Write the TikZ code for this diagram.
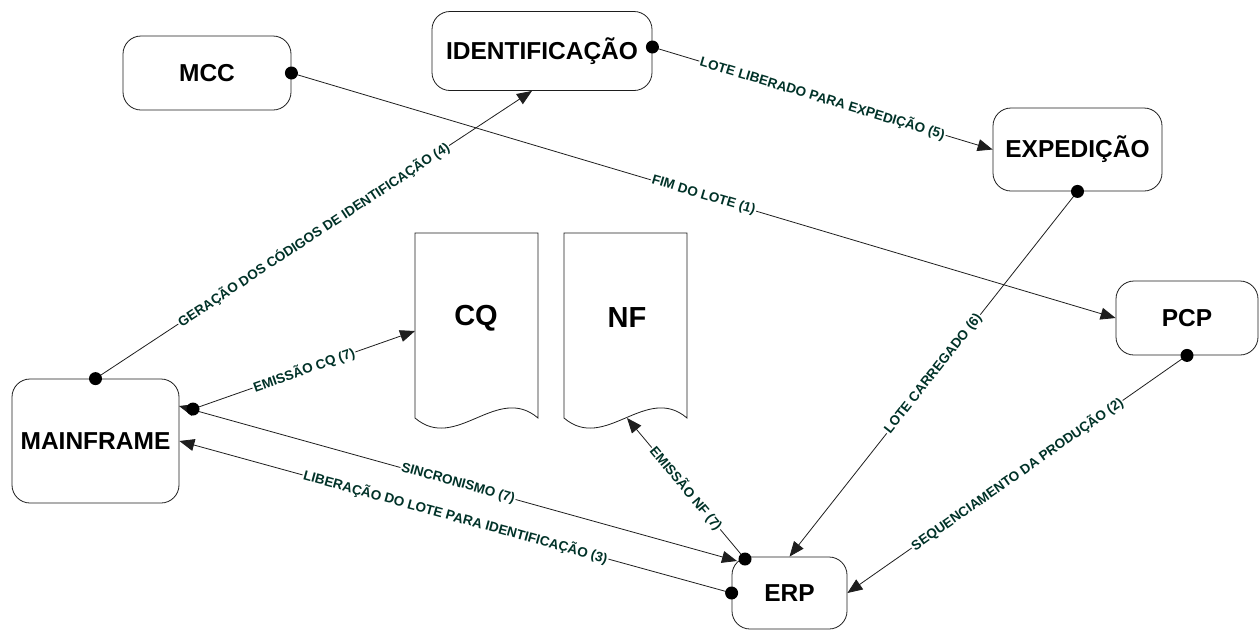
\documentclass[tikz,border=0pt]{standalone}
\usepackage{fontspec}
\setmainfont{Liberation Sans}
\usetikzlibrary{arrows.meta}
\definecolor{lblgreen}{RGB}{0,50,40}
\definecolor{linegray}{RGB}{30,30,30}
\begin{document}
\begin{tikzpicture}[x=1pt,y=-1pt,
  box/.style={draw=linegray, line width=0.8pt, rounded corners=18pt, inner sep=0pt,
    font=\fontsize{24.5}{28}\selectfont\bfseries},
  doctext/.style={inner sep=0pt, font=\fontsize{29}{32}\selectfont\bfseries},
  docline/.style={draw=linegray, line width=0.8pt, fill=white},
  flow/.style={draw=linegray, line width=0.8pt, -{Triangle[length=15pt,width=12pt]}},
  both/.style={{Triangle[length=15pt,width=12pt]}-{Triangle[length=15pt,width=12pt]}},
  lbl/.style={midway, sloped, fill=white, inner sep=1.2pt, text=lblgreen,
    font=\bfseries\fontsize{13.5}{15}\selectfont},
  portdot/.style={fill=black}]
\fill[white] (0,0) rectangle (1259,630);
\useasboundingbox (0,0) rectangle (1259,630);

% process boxes
\node[box, minimum width=168pt, minimum height=74pt] (mcc) at (207,73) {MCC};
\node[box, minimum width=220pt, minimum height=79pt] (ident) at (542,51) {IDENTIFICAÇÃO};
\node[box, minimum width=169pt, minimum height=83pt] (exped) at (1077.5,149.5) {EXPEDIÇÃO};
\node[box, minimum width=142pt, minimum height=74pt] (pcp) at (1187,318) {PCP};
\node[box, minimum width=167pt, minimum height=124pt] (mf) at (95.5,441) {MAINFRAME};
\node[box, minimum width=115pt, minimum height=72pt] (erp) at (789.5,593) {ERP};

% printed documents with wavy lower edge
\draw[docline] (415,233) -- (538,233) -- (538,418)
  .. controls (497,383) and (456,453) .. (415,418) -- cycle;
\draw[docline] (564,233) -- (687,233) -- (687,418)
  .. controls (646,383) and (605,453) .. (564,418) -- cycle;
\node[doctext] (cq) at (476,318) {CQ};
\node[doctext] (nf) at (627,318) {NF};

% connection ports
\coordinate (identin) at ([xshift=-10pt]ident.south);
\coordinate (identout) at ([yshift=4pt]ident.east);
\coordinate (mfout) at (193,409);
\coordinate (mfsync) at (179,406);
\coordinate (erpsync) at (737,561);
\coordinate (erpout) at (745,559);
\coordinate (cqin) at (415,331);
\coordinate (nfin) at (627,418);

% information flows
\draw[flow] (mcc.east) -- node[lbl]{FIM DO LOTE (1)} (pcp.west);
\draw[flow] (pcp.south) -- node[lbl]{SEQUENCIAMENTO DA PRODUÇÃO (2)} (erp.east);
\draw[flow] (erp.west) -- node[lbl]{LIBERAÇÃO DO LOTE PARA IDENTIFICAÇÃO (3)} (mf.east);
\draw[flow] (mf.north) -- node[lbl]{GERAÇÃO DOS CÓDIGOS DE IDENTIFICAÇÃO (4)} (identin);
\draw[flow] (identout) -- node[lbl]{LOTE LIBERADO PARA EXPEDIÇÃO (5)} (exped.west);
\draw[flow] (exped.south) -- node[lbl]{LOTE CARREGADO (6)} (erp.north);
\draw[flow] (mfout) -- node[lbl]{EMISSÃO CQ (7)} (cqin);
\draw[flow, both] (mfsync) -- node[lbl]{SINCRONISMO (7)} (erpsync);
\draw[flow] (erpout) -- node[lbl]{EMISSÃO NF (7)} (nfin);

% source dots
\fill[portdot] (mcc.east) circle[radius=6.5pt];
\fill[portdot] (pcp.south) circle[radius=6.5pt];
\fill[portdot] (erp.west) circle[radius=6.5pt];
\fill[portdot] (mf.north) circle[radius=6.5pt];
\fill[portdot] (identout) circle[radius=6.5pt];
\fill[portdot] (exped.south) circle[radius=6.5pt];
\fill[portdot] (mfout) circle[radius=6.5pt];
\fill[portdot] (erpout) circle[radius=6.5pt];
\end{tikzpicture}
\end{document}
